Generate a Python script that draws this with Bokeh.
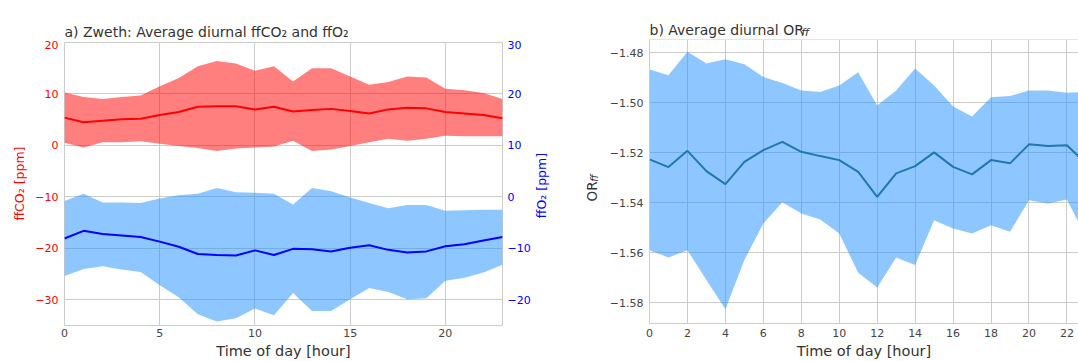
from math import pi

from bokeh.core.properties import value
from bokeh.embed import file_html
from bokeh.layouts import column, row
from bokeh.models import (CustomJSTickFormatter, FixedTicker, LinearAxis,
                          Range1d, Span)
from bokeh.plotting import figure
from bokeh.resources import INLINE

# ---------------------------------------------------------------- data
hours = list(range(24))

# ffCO2 [ppm]: hourly mean with lower / upper band
co2_mean = [5.4, 4.5, 4.8, 5.1, 5.2, 5.9, 6.5, 7.5, 7.6, 7.6, 7.0, 7.5,
            6.6, 6.9, 7.1, 6.7, 6.2, 7.0, 7.3, 7.2, 6.5, 6.2, 5.9, 5.3]
co2_lo = [0.5, -0.4, 0.6, 0.6, 0.8, 0.3, -0.1, -0.5, -1.1, -0.6, -0.4, -0.2,
          0.9, -1.1, -0.8, -0.1, 0.6, 1.3, 0.9, 1.3, 1.9, 1.8, 1.8, 1.8]
co2_hi = [10.3, 9.4, 9.0, 9.4, 9.7, 11.5, 13.1, 15.4, 16.4, 15.9, 14.5, 15.4,
          12.4, 15.0, 15.0, 13.4, 11.8, 12.3, 13.4, 13.2, 11.0, 10.7, 10.2, 9.0]

# ffO2 [ppm]: hourly mean with lower / upper band
o2_mean = [-8.1, -6.6, -7.2, -7.5, -7.8, -8.7, -9.7, -11.1, -11.3, -11.4, -10.4, -11.3,
           -10.1, -10.2, -10.6, -9.9, -9.4, -10.3, -10.8, -10.6, -9.6, -9.2, -8.5, -7.8]
o2_lo = [-15.4, -14.0, -13.5, -14.1, -14.6, -17.2, -19.5, -22.8, -24.2, -23.6, -21.7, -23.0,
         -18.7, -22.2, -22.2, -19.9, -17.7, -18.5, -19.9, -19.7, -16.3, -15.7, -14.7, -13.2]
o2_hi = [-0.8, 0.6, -1.1, -1.1, -1.2, -0.3, 0.3, 0.6, 1.7, 0.9, 0.8, 0.6,
         -1.5, 1.7, 1.1, -0.1, -1.2, -2.2, -1.6, -1.6, -2.7, -2.6, -2.5, -2.5]

# oxidative ratio OR_ff: hourly mean with lower / upper band
or_mean = [-1.5227, -1.5258, -1.5193, -1.5274, -1.5326, -1.5237, -1.5190, -1.5157,
           -1.5197, -1.5214, -1.5230, -1.5277, -1.5377, -1.5283, -1.5254, -1.5199,
           -1.5257, -1.5287, -1.5230, -1.5243, -1.5167, -1.5174, -1.5171, -1.5243]
or_lo = [-1.5590, -1.5619, -1.5590, -1.5709, -1.5826, -1.5629, -1.5483, -1.5398,
         -1.5443, -1.5467, -1.5523, -1.5680, -1.5739, -1.5619, -1.5649, -1.5470,
         -1.5503, -1.5523, -1.5490, -1.5516, -1.5390, -1.5403, -1.5387, -1.5536]
or_hi = [-1.4868, -1.4891, -1.4797, -1.4844, -1.4827, -1.4847, -1.4898, -1.4922,
         -1.4952, -1.4958, -1.4932, -1.4879, -1.5012, -1.4952, -1.4864, -1.4932,
         -1.5016, -1.5056, -1.4979, -1.4974, -1.4952, -1.4952, -1.4961, -1.4957]

# tick positions
hour_ticks_a = [0, 5, 10, 15, 20]
hour_ticks_b = [0, 2, 4, 6, 8, 10, 12, 14, 16, 18, 20, 22]
co2_ticks = [-30, -20, -10, 0, 10, 20]
o2_ticks = [-20, -10, 0, 10, 20, 30]
or_ticks = [-1.58, -1.56, -1.54, -1.52, -1.50, -1.48]

# ---------------------------------------------------------------- style
FONT = "DejaVu Sans"
GRID = "#cccccc"
TEXT = "#333333"
TICK_TEXT = "#444444"
BAND_BLUE = "#1e90ff"
H = 361


def minus_formatter(decimals):
    return CustomJSTickFormatter(
        code="return (tick < 0 ? '\u2212' : '') + Math.abs(tick).toFixed(%d);" % decimals)


def style_axis(axis, ticks, decimals, color=TICK_TEXT, standoff=6):
    axis.ticker = FixedTicker(ticks=ticks)
    axis.formatter = minus_formatter(decimals)
    axis.major_tick_line_color = None
    axis.minor_tick_line_color = None
    axis.major_tick_out = 0
    axis.major_tick_in = 0
    axis.minor_tick_out = 0
    axis.minor_tick_in = 0
    axis.axis_line_color = None
    axis.major_label_text_font = FONT
    axis.major_label_text_font_size = "11px"
    axis.major_label_text_color = color
    axis.major_label_standoff = standoff
    axis.axis_label_text_font = FONT
    axis.axis_label_text_font_style = "normal"


def x_label(axis, standoff):
    axis.axis_label = "Time of day [hour]"
    axis.axis_label_text_font_size = "14.5px"
    axis.axis_label_text_color = TEXT
    axis.axis_label_standoff = standoff


def strip(width, height, x_range=None, y_range=None, left=0, right=0, top=0, bottom=0):
    """Blank canvas holding titles and rotated axis labels next to a panel."""
    s = figure(width=width, height=height, title=None,
               x_range=x_range if x_range is not None else Range1d(0, width),
               y_range=y_range if y_range is not None else Range1d(0, height),
               x_axis_type=None, y_axis_type=None,
               min_border_left=left, min_border_right=right,
               min_border_top=top, min_border_bottom=bottom,
               output_backend="svg", toolbar_location=None)
    s.outline_line_color = None
    s.background_fill_color = "white"
    s.border_fill_color = "white"
    return s


def put_text(s, x, y, text, size, color=TEXT, angle=0.0, align="left",
             baseline="alphabetic", style="normal"):
    s.text(x=[x], y=[y], text=[text], angle=angle, text_font=value(FONT),
           text_font_size=value(size), text_color=color, text_align=align,
           text_baseline=baseline, text_font_style=style)


# ---------------------------------------------------------------- panel a
A_LEFT, A_RIGHT, A_TOP, A_BOTTOM = 34, 30, 2, 36
p1 = figure(width=503, height=321, title=None,
            x_range=Range1d(0, 23), y_range=Range1d(-35, 20),
            min_border_left=A_LEFT, min_border_right=A_RIGHT, min_border_top=A_TOP,
            min_border_bottom=A_BOTTOM, output_backend="svg", toolbar_location=None)
p1.extra_y_ranges = {"o2": Range1d(-25, 30)}
p1.outline_line_color = GRID
p1.outline_line_alpha = 1.0
p1.background_fill_color = "white"
p1.border_fill_color = "white"

style_axis(p1.xaxis[0], hour_ticks_a, 0, standoff=3)
x_label(p1.xaxis[0], 3)
style_axis(p1.yaxis[0], co2_ticks, 0, color="red")

o2_axis = LinearAxis(y_range_name="o2")
style_axis(o2_axis, o2_ticks, 0, color="blue", standoff=5)
p1.add_layout(o2_axis, "right")

for g in (p1.xgrid[0], p1.ygrid[0]):
    g.grid_line_color = GRID
    g.grid_line_width = 1
p1.xgrid[0].ticker = FixedTicker(ticks=hour_ticks_a)
p1.ygrid[0].ticker = FixedTicker(ticks=co2_ticks)

p1.varea(x=hours, y1=co2_lo, y2=co2_hi, fill_color="red", fill_alpha=0.5)
p1.line(x=hours, y=co2_mean, line_color="red", line_width=2)
p1.varea(x=hours, y1=o2_lo, y2=o2_hi, fill_color=BAND_BLUE, fill_alpha=0.5,
         y_range_name="o2")
p1.line(x=hours, y=o2_mean, line_color="blue", line_width=2, y_range_name="o2")

# title above panel a (40 px tall, baseline 8.3 px above its bottom)
t1 = strip(503, 40, x_range=p1.x_range, y_range=Range1d(0, 40),
           left=A_LEFT, right=A_RIGHT)
put_text(t1, 0, 8.3, "a) Zweth: Average diurnal ffCO\u2082 and ffO\u2082", "14px")

# rotated axis labels on both sides of panel a
lab_co2 = strip(30, H, y_range=p1.y_range, top=40 + A_TOP, bottom=A_BOTTOM)
put_text(lab_co2, 19, -7.6, "ffCO\u2082 [ppm]", "12.5px", color="red",
         angle=pi / 2, align="center", baseline="middle")

lab_o2 = strip(37, H, y_range=p1.y_range, top=40 + A_TOP, bottom=A_BOTTOM)
put_text(lab_o2, 8, -8.0, "ffO\u2082 [ppm]", "12.5px", color="blue",
         angle=pi / 2, align="center", baseline="middle")

# ---------------------------------------------------------------- panel b
B_LEFT, B_RIGHT, B_TOP, B_BOTTOM = 49, 0, 1, 38
p2 = figure(width=478, height=323, title=None, x_range=Range1d(0, 22.61),
            y_range=Range1d(-1.5883, -1.4748),
            min_border_left=B_LEFT, min_border_right=B_RIGHT, min_border_top=B_TOP,
            min_border_bottom=B_BOTTOM, output_backend="svg", toolbar_location=None)
p2.outline_line_color = None
p2.background_fill_color = "white"
p2.border_fill_color = "white"

style_axis(p2.xaxis[0], hour_ticks_b, 0, standoff=5)
x_label(p2.xaxis[0], 3)
p2.xaxis[0].axis_line_color = GRID

style_axis(p2.yaxis[0], or_ticks, 2)
p2.yaxis[0].axis_line_color = GRID
p2.add_layout(Span(location=-1.4748, dimension="width", line_color=GRID, line_width=1))

for g in (p2.xgrid[0], p2.ygrid[0]):
    g.grid_line_color = GRID
    g.grid_line_width = 1
p2.xgrid[0].ticker = FixedTicker(ticks=hour_ticks_b)
p2.ygrid[0].ticker = FixedTicker(ticks=or_ticks)

p2.varea(x=hours, y1=or_lo, y2=or_hi, fill_color=BAND_BLUE, fill_alpha=0.5)
p2.line(x=hours, y=or_mean, line_color="#1f77b4", line_width=2)

# title with an italic subscript (38 px tall strip)
t2 = strip(478, 38, x_range=p2.x_range, y_range=Range1d(0, 38),
           left=B_LEFT, right=B_RIGHT)
put_text(t2, 0, 8.7, "b) Average diurnal OR", "14px")
put_text(t2, 8.0, 6.2, "ff", "11px", style="italic")

# y-axis label OR_ff, set vertically
lab_or = strip(30, H, y_range=p2.y_range, top=38 + B_TOP, bottom=B_BOTTOM)
put_text(lab_or, 21, -1.5390, "OR", "13.5px", angle=pi / 2, baseline="middle")
put_text(lab_or, 24, -1.5310, "ff", "10px", angle=pi / 2, baseline="middle",
         style="italic")

layout = row(lab_co2, column(t1, p1), lab_o2, lab_or, column(t2, p2))
open("out.html", "w").write(file_html(layout, INLINE))
